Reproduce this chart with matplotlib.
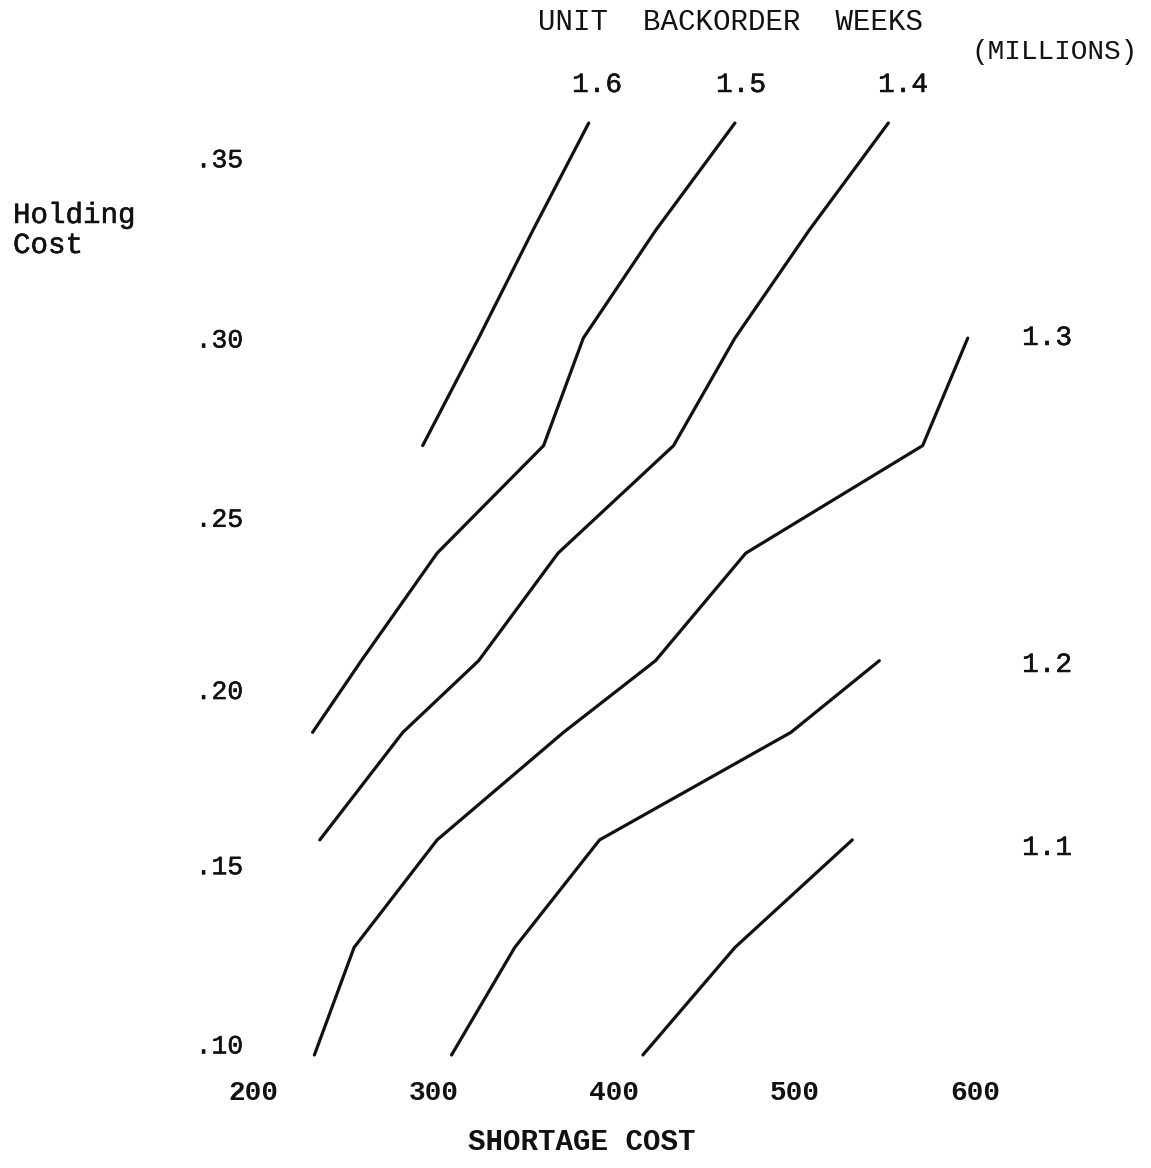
import matplotlib
matplotlib.use("Agg")
import matplotlib.pyplot as plt
import matplotlib.transforms as mtransforms
import matplotlib.patheffects as pe

# Iso-backorder contours: holding cost vs. shortage cost
levels = ["1.6", "1.5", "1.4", "1.3", "1.2", "1.1"]

shortage_16 = [294, 325, 355, 386]
holding_16 = [0.27, 0.30, 0.33, 0.36]

shortage_15 = [233, 260, 302, 361, 383, 423, 467]
holding_15 = [0.19, 0.21, 0.24, 0.27, 0.30, 0.33, 0.36]

shortage_14 = [237, 283, 325, 369, 433, 467, 508, 552]
holding_14 = [0.16, 0.19, 0.21, 0.24, 0.27, 0.30, 0.33, 0.36]

shortage_13 = [234, 256, 302, 372, 423, 473, 571, 596]
holding_13 = [0.10, 0.13, 0.16, 0.19, 0.21, 0.24, 0.27, 0.30]

shortage_12 = [310, 345, 392, 498, 547]
holding_12 = [0.10, 0.13, 0.16, 0.19, 0.21]

shortage_11 = [416, 467, 532]
holding_11 = [0.10, 0.13, 0.16]

x_ticks = [200, 300, 400, 500, 600]
x_tick_labels = ["200", "300", "400", "500", "600"]
y_ticks = [0.10, 0.15, 0.20, 0.25, 0.30, 0.35]
y_tick_labels = [".10", ".15", ".20", ".25", ".30", ".35"]

curves = [
    (shortage_16, holding_16),
    (shortage_15, holding_15),
    (shortage_14, holding_14),
    (shortage_13, holding_13),
    (shortage_12, holding_12),
    (shortage_11, holding_11),
]

W, H = 1151, 1168
MONO = ["Liberation Mono", "DejaVu Sans Mono"]
INK = "#111111"
# a little extra ink so the typed lettering reads like a typewriter face
TYPED = [pe.withStroke(linewidth=0.35, foreground=INK)]

fig = plt.figure(figsize=(W / 100, H / 100), dpi=100)
fig.patch.set_facecolor("white")
ax = fig.add_axes([253 / W, 1 - 1055 / H, (975 - 253) / W, (1055 - 123) / H])
ax.set_xlim(200, 600)
ax.set_ylim(0.10, 0.36)
for s in ax.spines.values():
    s.set_visible(False)

for xs, ys in curves:
    ax.plot(xs, ys, color=INK, lw=2.3, solid_capstyle="round",
            solid_joinstyle="round", clip_on=False)

ax.set_xticks(x_ticks)
ax.set_xticklabels(x_tick_labels, family=MONO, fontsize=20, fontweight="bold")
ax.set_yticks(y_ticks)
ax.set_yticklabels(y_tick_labels, family=MONO, fontsize=19)
ax.tick_params(axis="both", length=0, colors=INK)
ax.tick_params(axis="x", pad=18)
ax.tick_params(axis="y", pad=7)

# the hand-typed row labels sit a little above their gridline near the bottom
y_label_lift = [11, 11, 7, 0, 0, 1]
for lab, lift in zip(ax.get_yticklabels(), y_label_lift):
    lab.set_path_effects(TYPED)
    lab.set_transform(lab.get_transform() +
                      mtransforms.ScaledTranslation(0, lift / 100, fig.dpi_scale_trans))


def ftext(px, py, s, effects=TYPED, **kw):
    kw.setdefault("family", MONO)
    kw.setdefault("color", INK)
    t = fig.text(px / W, 1 - py / H, s, **kw)
    if effects:
        t.set_path_effects(effects)
    return t


# Titles and axis captions
ftext(731, 22, "UNIT  BACKORDER  WEEKS", effects=None, fontsize=21,
      ha="center", va="center")
ftext(1055, 52, "(MILLIONS)", effects=None, fontsize=20, ha="center", va="center")
ftext(13, 223, "Holding", fontsize=21, ha="left", va="baseline")
ftext(13, 253, "Cost", fontsize=21, ha="left", va="baseline")
ftext(582, 1142, "SHORTAGE COST", effects=None, fontsize=21, fontweight="bold",
      ha="center", va="center")

# Contour level labels
label_px = [(597, 85), (741, 85), (903, 85), (1047, 338), (1047, 665), (1047, 848)]
for lev, (px, py) in zip(levels, label_px):
    ftext(px, py, lev, fontsize=20, ha="center", va="center")

fig.savefig("out.png", dpi=100, facecolor="white")
